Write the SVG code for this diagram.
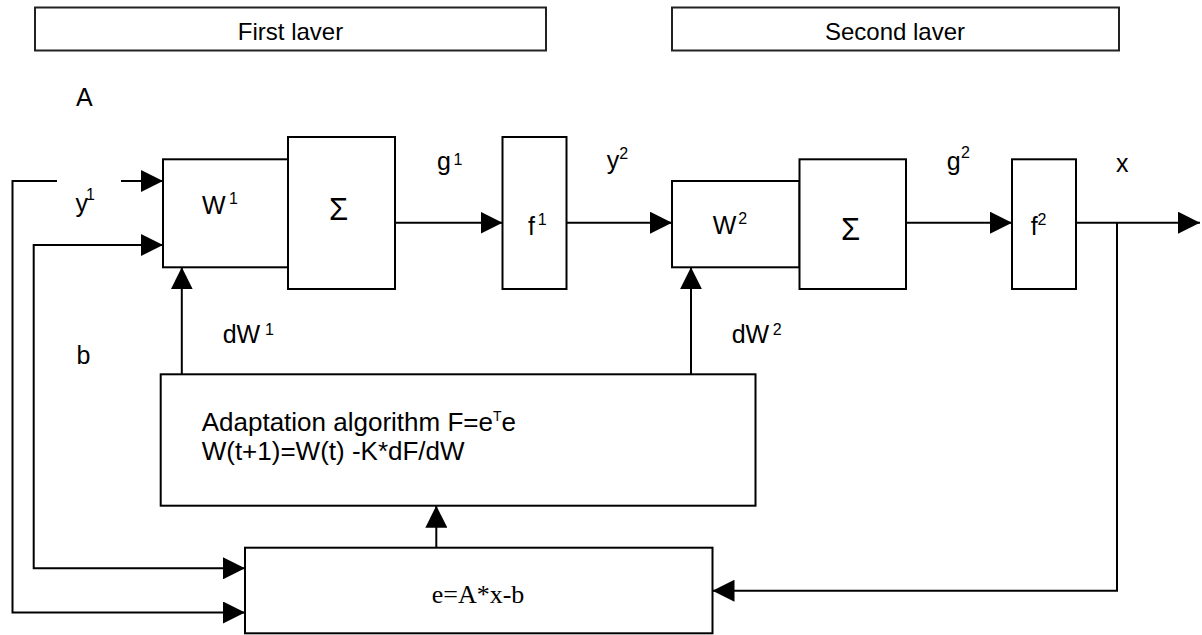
<svg xmlns="http://www.w3.org/2000/svg" width="1202" height="635" viewBox="0 0 1202 635">
<style>
.box{fill:#fff;stroke:#000;stroke-width:2}
.hdr{fill:#fff;stroke:#222;stroke-width:2}
.ln{fill:none;stroke:#000;stroke-width:2}
.t{font-family:"Liberation Sans",Arial,sans-serif;font-size:25px;fill:#000}
.h{font-family:"Liberation Sans",Arial,sans-serif;font-size:24px;fill:#000}
.s{font-family:"Liberation Sans",Arial,sans-serif;font-size:16px;fill:#000}
.g{font-family:"Liberation Sans",Arial,sans-serif;font-size:31px;fill:#000}
.a{font-family:"Liberation Sans",Arial,sans-serif;font-size:26px;fill:#000}
.e{font-family:"Liberation Serif","Times New Roman",serif;font-size:26px;fill:#000}
</style>
<defs>
<marker id="ah" markerUnits="userSpaceOnUse" markerWidth="22" markerHeight="22" viewBox="0 0 20 20" refX="20" refY="10" orient="auto"><path d="M0,0 L20,10 L0,20 z" fill="#000"/></marker>
</defs>
<g id="header1"><rect class="hdr" x="35" y="7.5" width="511" height="43"/><text class="h" x="290.5" y="39.5" text-anchor="middle">First laver</text></g>
<g id="header2"><rect class="hdr" x="672" y="7.5" width="447" height="43"/><text class="h" x="895" y="39.5" text-anchor="middle">Second laver</text></g>
<g id="connectors">
<path class="ln" d="M57,181 H12.5 V612.5 H245" marker-end="url(#ah)"/>
<path class="ln" d="M121,181 H163" marker-end="url(#ah)"/>
<path class="ln" d="M163,245 H33.7 V568.3 H245" marker-end="url(#ah)"/>
<path class="ln" d="M33.7,245 H163" marker-end="url(#ah)"/>
<path class="ln" d="M395,222.7 H502.5" marker-end="url(#ah)"/>
<path class="ln" d="M566.4,222.7 H672" marker-end="url(#ah)"/>
<path class="ln" d="M906,222.7 H1012" marker-end="url(#ah)"/>
<path class="ln" d="M1076,222.7 H1200" marker-end="url(#ah)"/>
<path class="ln" d="M1117,222.7 V590.7 H712.5" marker-end="url(#ah)"/>
<path class="ln" d="M181.8,374.3 V267.3" marker-end="url(#ah)"/>
<path class="ln" d="M691,374.3 V267.3" marker-end="url(#ah)"/>
<path class="ln" d="M436.3,547.7 V505.7" marker-end="url(#ah)"/>
</g>
<g id="W1"><rect class="box" x="163" y="159.3" width="125" height="108"/><text class="t" x="202" y="214">W</text><text class="s" x="229" y="203.5">1</text></g>
<g id="sum1"><rect class="box" x="288" y="137" width="107" height="152"/><text class="g" x="329" y="220">Σ</text></g>
<g id="f1"><rect class="box" x="502.5" y="137" width="64" height="152"/><text class="t" x="528" y="235">f</text><text class="s" x="537.7" y="225">1</text></g>
<g id="W2"><rect class="box" x="672" y="181" width="127.5" height="86.3"/><text class="t" x="712.7" y="234">W</text><text class="s" x="738.3" y="223.5">2</text></g>
<g id="sum2"><rect class="box" x="799.5" y="159.3" width="106.5" height="129.7"/><text class="g" x="841" y="240">Σ</text></g>
<g id="f2"><rect class="box" x="1012" y="159.3" width="64" height="129.7"/><text class="t" x="1030.7" y="235">f</text><text class="s" x="1037.6" y="225">2</text></g>
<g id="adapt"><rect class="box" x="160.7" y="374.3" width="594.8" height="131.4"/><text class="a" x="201.7" y="430.5">Adaptation algorithm F=e<tspan font-size="14" dy="-10">T</tspan><tspan dy="10">e</tspan></text><text class="a" x="201.7" y="460">W(t+1)=W(t) -K*dF/dW</text></g>
<g id="error"><rect class="box" x="245" y="547.7" width="467.5" height="85.6"/><text class="e" x="431.7" y="603.3">e=A*x-b</text></g>
<g id="labels">
<text class="t" x="76" y="106">A</text>
<text class="t" x="75.5" y="212">y</text><text class="s" x="86" y="200">1</text>
<text class="t" x="76.5" y="364">b</text>
<text class="t" x="437" y="170">g</text><text class="s" x="453.5" y="165">1</text>
<text class="t" x="606.7" y="169">y</text><text class="s" x="619.3" y="158.5">2</text>
<text class="t" x="946.7" y="170">g</text><text class="s" x="961" y="157.5">2</text>
<text class="t" x="1116" y="172">x</text>
<text class="t" x="222.7" y="343.3">dW</text><text class="s" x="265" y="335">1</text>
<text class="t" x="731.7" y="343.3">dW</text><text class="s" x="772.7" y="335">2</text>
</g>
</svg>
